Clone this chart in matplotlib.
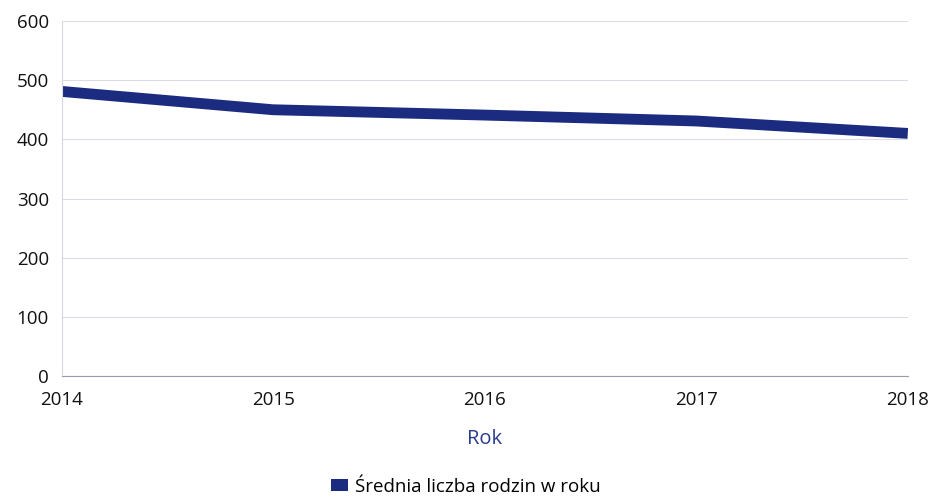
import matplotlib
matplotlib.use('Agg')
import matplotlib.pyplot as plt
from matplotlib.patches import Patch

lata = [2014, 2015, 2016, 2017, 2018]
srednia = [481, 450, 441, 431, 410]
y_ticks = [0, 100, 200, 300, 400, 500, 600]

plt.rcParams['font.family'] = ['Open Sans', 'DejaVu Sans']

fig = plt.figure(figsize=(9.32, 5.0), dpi=100)
ax = fig.add_axes([0.066, 0.248, 0.908, 0.71])

ax.plot(lata, srednia, color='#1b2b80', linewidth=7.8, solid_capstyle='butt')

ax.set_xlim(lata[0], lata[-1])
ax.set_ylim(0, 600)
ax.set_xticks(lata)
ax.set_yticks(y_ticks)
ax.tick_params(axis='both', length=0, labelsize=13.5, colors='#111111')
ax.tick_params(axis='x', pad=11)
ax.tick_params(axis='y', pad=9)

ax.grid(axis='y', color='#dcdce8', linewidth=0.8)
ax.set_axisbelow(True)
for s in ['top', 'right']:
    ax.spines[s].set_visible(False)
ax.spines['left'].set_color('#d8d8e0')
ax.spines['bottom'].set_color('#9a9ab0')

ax.set_xlabel('Rok', fontsize=14.5, color='#2a3a8a', labelpad=14)

uchwyt = [Patch(facecolor='#1b2b80', edgecolor='none', label='Średnia liczba rodzin w roku')]
fig.legend(handles=uchwyt, loc='center', bbox_to_anchor=(0.5, 0.026), frameon=False,
           fontsize=13.5, handlelength=0.9, handleheight=0.6, handletextpad=0.4)

fig.savefig('out.png', dpi=100)
